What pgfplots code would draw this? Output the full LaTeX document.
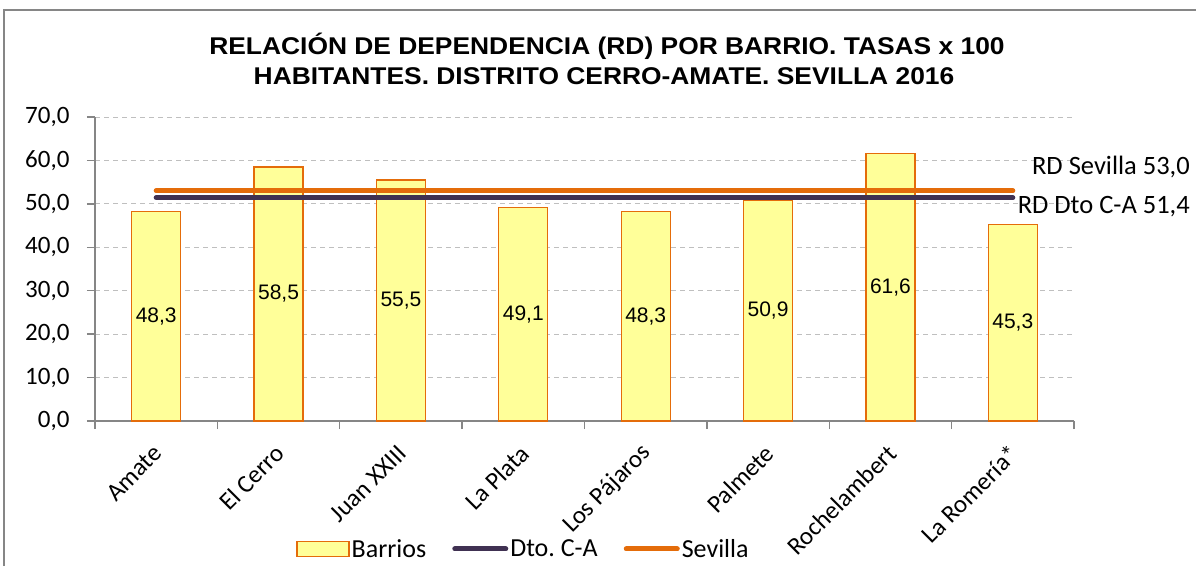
\documentclass[border=0pt]{standalone}
\usepackage{pgfplots}
\pgfplotsset{compat=1.18}
\usepackage{pgfplotstable}
\usepackage{fontspec}
\setmainfont{Carlito}
\newfontfamily\arial{Liberation Sans}
\newfontfamily\arialt[FakeStretch=1.09]{Liberation Sans}
\definecolor{barfill}{HTML}{FFFF99}
\definecolor{barline}{HTML}{E46C0A}
\definecolor{sevilla}{HTML}{E46C0A}
\definecolor{dto}{HTML}{403152}
\definecolor{gridc}{HTML}{BFBFBF}
\definecolor{axisc}{HTML}{868686}

\pgfplotstableread{
x y
0 48.3
1 58.5
2 55.5
3 49.1
4 48.3
5 50.9
6 61.6
7 45.3
}\barrios

\begin{document}
\frenchspacing
\begin{tikzpicture}[x=1pt,y=1pt]
\useasboundingbox (0,0) rectangle (1196,566);
\draw[axisc, line width=1.5pt] (4,0) -- (4,556) -- (1196,556);
\node[anchor=base, inner sep=0pt, font=\arialt\bfseries\fontsize{24.2}{28}\selectfont] at (607,511) {RELACIÓN DE DEPENDENCIA (RD) POR BARRIO. TASAS x 100};
\node[anchor=base, inner sep=0pt, font=\arialt\bfseries\fontsize{24.2}{28}\selectfont] at (604,481) {HABITANTES. DISTRITO CERRO-AMATE. SEVILLA 2016};
\begin{axis}[
  at={(95pt,145pt)}, anchor=south west,
  scale only axis, width=979pt, height=304pt,
  xmin=-0.5, xmax=7.5, ymin=0, ymax=70,
  ytick={0,10,...,70},
  xtick={-0.5,0.5,...,7.5},
  x tick label as interval,
  xticklabels={Amate, El Cerro, Juan XXIII, La Plata, Los Pájaros, Palmete, Rochelambert, La Romería*},
  axis lines*=left,
  axis line style={axisc, line width=1.3pt},
  tick style={axisc, line width=1.3pt},
  tick align=outside,
  major tick length=8pt,
  ymajorgrids,
  grid style={gridc, line width=1pt, dash pattern=on 5pt off 4pt},
  /pgf/number format/assume math mode=true,
  yticklabel style={/pgf/number format/.cd, fixed, fixed zerofill, precision=1, use comma, /tikz/.cd, font=\fontsize{25}{25}\selectfont, xshift=-14pt},
  xticklabel style={xshift=4pt, yshift=-18pt, rotate=45, anchor=east, font=\fontsize{25}{25}\selectfont},
  clip=false,
  legend columns=3,
  legend style={at={(0.4377,-0.421)}, anchor=center, draw=none, fill=none,
    font=\fontsize{26}{26}\selectfont,
    /tikz/every even column/.style={column sep=24pt}},
]
\addplot[ybar, bar width=49pt, fill=barfill, draw=barline, line width=1.3pt,
  legend image code/.code={\draw[fill=barfill, draw=barline, line width=1.3pt] (0pt,-7.5pt) rectangle (52pt,7.5pt);}]
  table[x=x,y=y] {\barrios};
\addlegendentry{Barrios}
\addplot[forget plot, draw=none, mark=none, point meta=explicit,
  nodes near coords={\pgfmathprintnumber[fixed, fixed zerofill, precision=1, use comma]{\pgfplotspointmeta}},
  nodes near coords style={anchor=center, font=\arial\fontsize{21}{21}\selectfont, text=black}]
  table[x=x, y expr=\thisrow{y}/2, meta=y] {\barrios};
\addplot[dto, line width=5pt, line cap=round,
  legend image code/.code={\draw[dto, line width=5pt, line cap=round] (2.5pt,0pt) -- (53.5pt,0pt);}]
  coordinates {(0,51.4) (7,51.4)};
\addlegendentry{Dto. C-A}
\addplot[sevilla, line width=5pt, line cap=round,
  legend image code/.code={\draw[sevilla, line width=5pt, line cap=round] (2.5pt,0pt) -- (53.5pt,0pt);}]
  coordinates {(0,53) (7,53)};
\addlegendentry{Sevilla}
\node[anchor=east, font=\fontsize{26.5}{26.5}\selectfont, inner sep=0pt] at (axis cs:7.5,53) [xshift=116pt, yshift=24pt] {RD Sevilla 53,0};
\node[anchor=east, font=\fontsize{26.5}{26.5}\selectfont, inner sep=0pt] at (axis cs:7.5,51.4) [xshift=116pt, yshift=-9pt] {RD Dto C-A 51,4};
\end{axis}
\end{tikzpicture}
\end{document}
